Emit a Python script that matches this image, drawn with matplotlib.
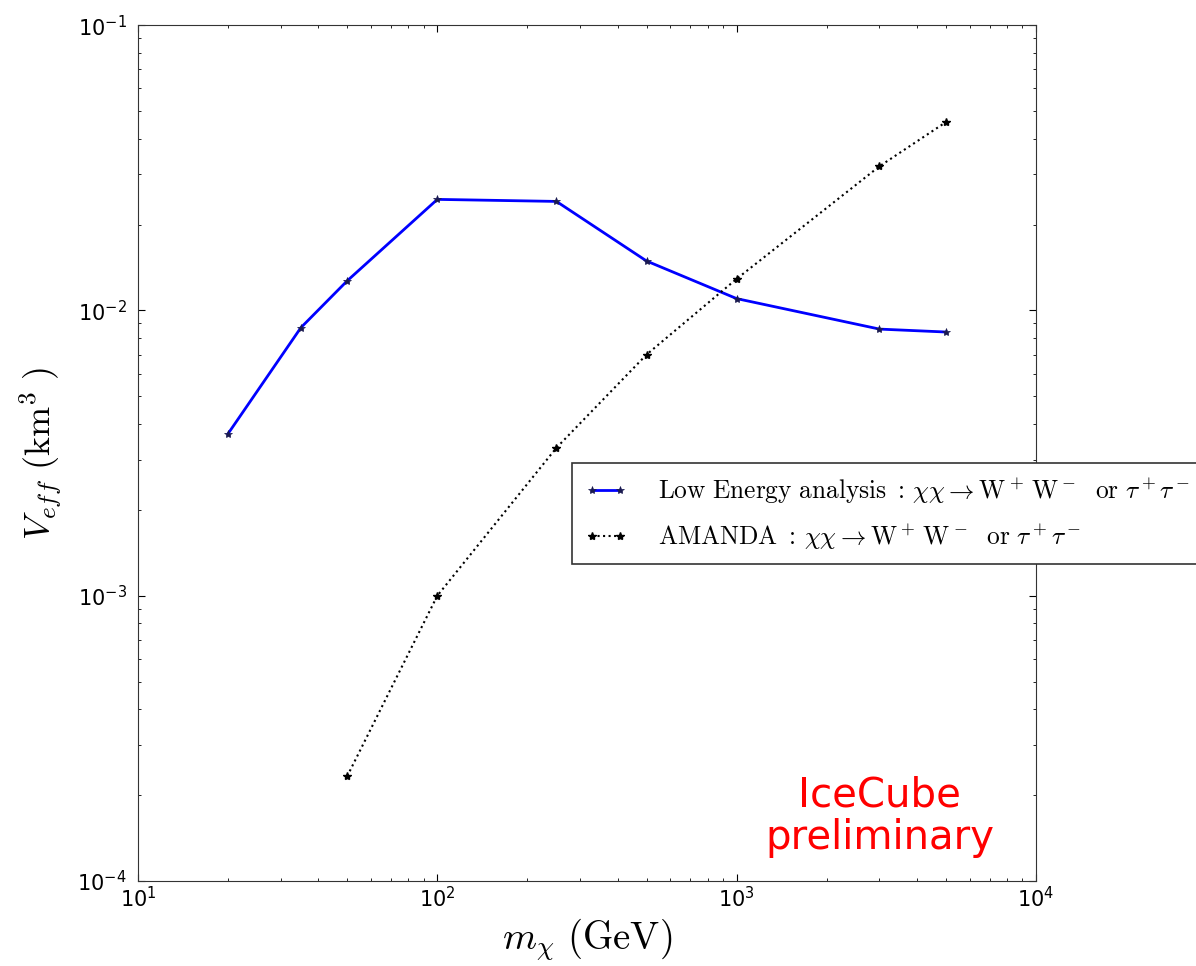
import matplotlib
matplotlib.use("Agg")
import matplotlib.pyplot as plt

plt.rcParams['mathtext.fontset'] = 'cm'

# dark matter mass (GeV)
mass_low = [20, 35, 50, 100, 250, 500, 1000, 3000, 5000]
veff_low = [3.7e-3, 8.7e-3, 1.27e-2, 2.45e-2, 2.41e-2, 1.49e-2, 1.1e-2, 8.6e-3, 8.4e-3]

mass_amanda = [50, 100, 250, 500, 1000, 3000, 5000]
veff_amanda = [2.33e-4, 1.0e-3, 3.3e-3, 7.0e-3, 1.29e-2, 3.2e-2, 4.57e-2]

label_low = r'$\mathrm{Low\ Energy\ analysis\ :}\,\chi\chi\rightarrow\mathrm{W^+\,W^-\ \ or\ }\tau^+\tau^-$'
label_amanda = r'$\mathrm{AMANDA\ :}\,\chi\chi\rightarrow\mathrm{W^+\,W^-\ \ or\ }\tau^+\tau^-$'

fig = plt.figure(figsize=(11.96, 9.66), dpi=100)
ax = fig.add_axes([0.1154, 0.088, 0.7508, 0.886])

ax.plot(mass_low, veff_low, '-', color='blue', lw=2, marker='*',
        markersize=6, markerfacecolor='#1a1a50', markeredgecolor='#1a1a50', markeredgewidth=0.5,
        label=label_low)
ax.plot(mass_amanda, veff_amanda, ':', color='k', lw=1.5, marker='*',
        markersize=6, markerfacecolor='k', markeredgecolor='k',
        label=label_amanda)

ax.set_xscale('log')
ax.set_yscale('log')
ax.set_xlim(10, 1e4)
ax.set_ylim(1e-4, 1e-1)

ax.tick_params(which='both', direction='in', top=True, right=True, labelsize=15)
ax.tick_params(which='major', length=5, width=0.8)
ax.tick_params(which='minor', length=2.5, width=0.6)
ax.tick_params(axis='y', pad=8)
for s in ax.spines.values():
    s.set_color('#333333')

ax.set_xlabel(r'$m_\chi\ (\mathrm{GeV})$', fontsize=28, labelpad=4)
ax.set_ylabel(r'$V_{eff}\ (\mathrm{km}^3\ )$', fontsize=26, labelpad=10)

ax.text(0.826, 0.075, 'IceCube\npreliminary', color='red', fontsize=29,
        ha='center', va='center', linespacing=1.1, transform=ax.transAxes)

leg = ax.legend(loc='upper left', bbox_to_anchor=(0.483, 0.488), fontsize=18.3,
                numpoints=2, fancybox=False, framealpha=1, borderpad=0.5,
                labelspacing=0.6, handlelength=1.7, handletextpad=1.2,
                borderaxespad=0)
leg.get_frame().set_edgecolor('#333333')
leg.get_frame().set_linewidth(1.2)

fig.savefig('out.png', dpi=100)
